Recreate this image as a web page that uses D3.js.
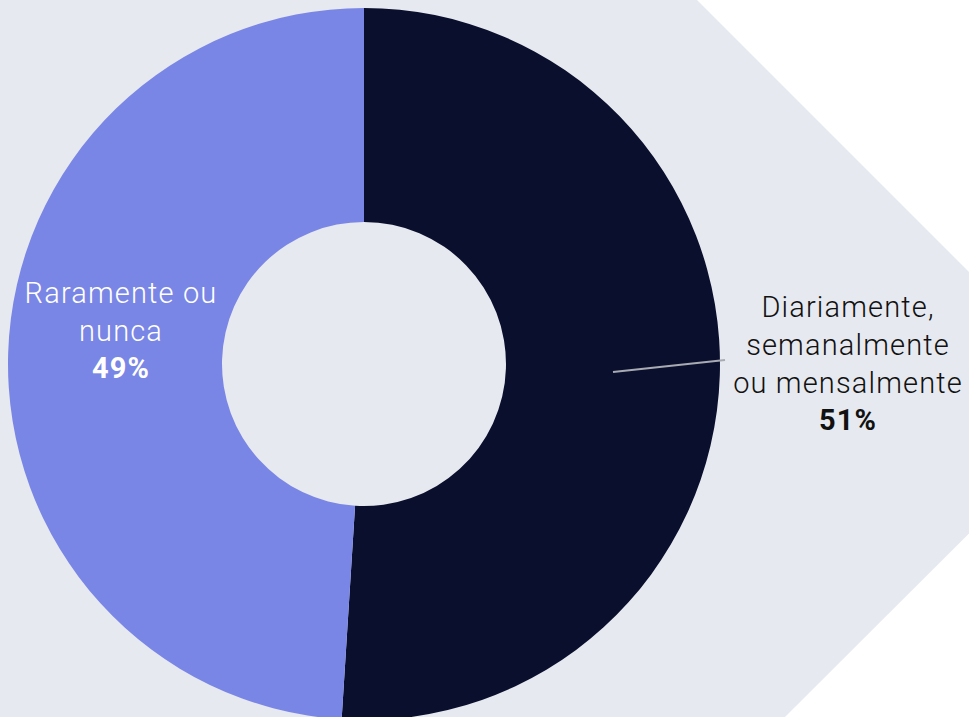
<!DOCTYPE html>
<html><head><meta charset="utf-8">
<script src="https://cdn.jsdelivr.net/npm/d3@7"></script>
<style>html,body{margin:0;padding:0;background:#fff;overflow:hidden}svg{display:block}</style>
</head><body>
<script>
const categories = ["Diariamente, semanalmente ou mensalmente", "Raramente ou nunca"];
const values = [51, 49];
const labelLines = [["Diariamente,", "semanalmente", "ou mensalmente"], ["Raramente ou", "nunca"]];
const pctLabels = ["51%", "49%"];
const colors = ["#0a0f2d", "#7a86e5"];

const W = 969, H = 717;
const svg = d3.select("body").append("svg").attr("width", W).attr("height", H);

// chevron background
svg.append("path")
  .attr("d", "M0,0 L697,0 L1100,403 L785,717 L0,717 Z")
  .attr("fill", "#e6e9ef");

const cx = 364, cy = 364, R = 356, r0 = 142;
const g = svg.append("g").attr("transform", `translate(${cx},${cy})`);
const pie = d3.pie().sort(null).value(d => d)(values);
const arc = d3.arc().innerRadius(r0).outerRadius(R);
g.selectAll("path.slice").data(pie).join("path")
  .attr("class", "slice")
  .attr("d", arc)
  .attr("fill", (d, i) => colors[i]);

// leader line for the first slice
g.append("line")
  .attr("x1", 613 - cx).attr("y1", 372 - cy)
  .attr("x2", 725 - cx).attr("y2", 360 - cy)
  .attr("stroke", "#a9abb3").attr("stroke-width", 2);

const font = "Roboto, 'Noto Sans', sans-serif";
function label(x, y0, lines, pct, color) {
  const t = svg.append("text").attr("text-anchor", "middle")
    .attr("font-family", font).attr("fill", color).attr("font-size", 29)
    .attr("letter-spacing", 1.15);
  lines.forEach((l, i) => {
    t.append("tspan").attr("x", x).attr("y", y0 + i * 38).attr("font-weight", 300).text(l);
  });
  t.append("tspan").attr("x", x).attr("y", y0 + lines.length * 38 - 1)
    .attr("font-weight", 700).text(pct);
}
label(848, 317, labelLines[0], pctLabels[0], "#111");
label(121, 303, labelLines[1], pctLabels[1], "#ffffff");
</script>
</body></html>
